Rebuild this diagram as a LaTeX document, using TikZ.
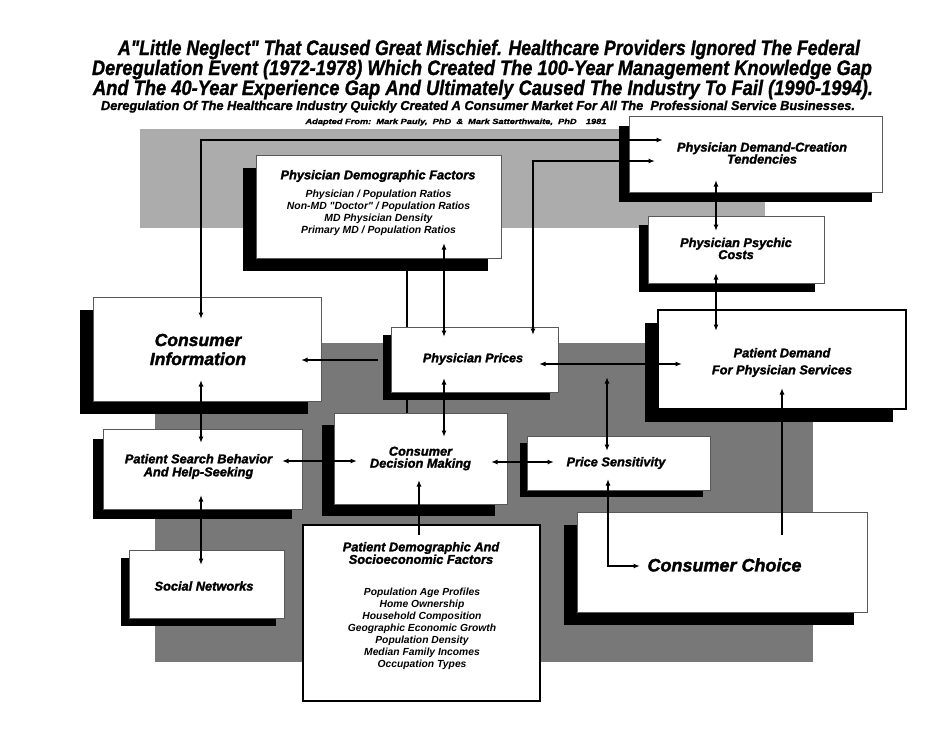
\documentclass[tikz,border=0pt]{standalone}
\usepackage{fontspec}
\usepackage{graphicx}
\setmainfont{Liberation Sans}[Ligatures=TeXOff]
\newfontfamily\heavyfont{Liberation Sans}[Ligatures=TeXOff,FakeBold=1.8]
\newfontfamily\titlefont{Liberation Sans}[Ligatures=TeXOff,FakeBold=1.2]
\usetikzlibrary{arrows.meta,shadows,calc}
\pgfdeclarelayer{bg}
\pgfdeclarelayer{mid}
\pgfsetlayers{bg,mid,main}
\definecolor{lightgr}{RGB}{172,172,172}
\definecolor{darkgr}{RGB}{120,120,120}
\begin{document}
\begin{tikzpicture}[x=1pt,y=-1pt,
  >={Latex[length=6.5pt,width=5pt]},
  box/.style args={#1/#2/#3}{draw=black!65, line width=0.8pt, fill=white, anchor=north west,
     minimum width=#1pt, minimum height=#2pt, inner sep=0pt,
     drop shadow={shadow xshift=-#3pt, shadow yshift=-#3pt, fill=black, opacity=1}},
  thickb/.style={draw=black, line width=2pt},
  lab/.style 2 args={font=\heavyfont\bfseries\itshape\fontsize{#1}{#2}\selectfont, align=center, inner sep=0pt},
  bodytxt/.style 2 args={font=\bfseries\itshape\fontsize{#1}{#2}\selectfont, align=center, inner sep=0pt},
  ttl/.style 2 args={font=\titlefont\bfseries\itshape\fontsize{#1}{#2}\selectfont, anchor=base, inner sep=0pt},
  con/.style={line width=1.4pt, draw=black}]
\useasboundingbox (0,0) rectangle (951,734);
\begin{pgfonlayer}{bg}
  \fill[white] (0,0) rectangle (951,734);
  \fill[lightgr] (140,129) rectangle (765,228);
  \fill[darkgr] (155,343) rectangle (813,662);
\end{pgfonlayer}

% titles
\node[ttl={21}{20}] (t1) at (489,55) {\resizebox{742pt}{\height}{A"Little Neglect" That Caused Great Mischief. Healthcare Providers Ignored The Federal}};
\node[ttl={21}{20}] (t2) at (482,75) {\resizebox{780pt}{\height}{Deregulation Event (1972-1978) Which Created The 100-Year Management Knowledge Gap}};
\node[ttl={21}{20}] (t3) at (483,95) {\resizebox{780pt}{\height}{And The 40-Year Experience Gap And Ultimately Caused The Industry To Fail (1990-1994).}};
\node[ttl={13}{13}] (t4) at (478,110) {\resizebox{754pt}{\height}{Deregulation Of The Healthcare Industry Quickly Created A Consumer Market For All The\ \ Professional Service Businesses.}};
\node[ttl={7.5}{8}] (t5) at (456,124) {\resizebox{301pt}{\height}{Adapted From:\ \ Mark Pauly,\ \ PhD\ \ \&\ \ Mark Satterthwaite,\ \ PhD\quad 1981}};

% boxes
\node[box={245/103/13}] (pdf) at (256,155) {};
\node[box={253/76/10}] (pdc) at (629,116) {};
\node[box={176/67/9}] (psy) at (648,216) {};
\node[box={248/99/13}, thickb] (pd) at (657,309) {};
\node[box={228/104/13}] (ci) at (93,297) {};
\node[box={167/65/8}] (pp) at (391,327) {};
\node[box={199/80/10}] (psb) at (103,429) {};
\node[box={173/91/12}] (cdm) at (334,413) {};
\node[box={183/54/7}] (ps) at (527,436) {};
\node[box={290/100/13}] (cc) at (577,512) {};
\node[box={155/68/8}] (sn) at (129,550) {};
\node[draw=black, line width=2pt, fill=white, anchor=north west, minimum width=237pt, minimum height=176pt, inner sep=0pt] (pds) at (302,524) {};

% labels
\node[lab={12.8}{13}] (pdfT) at (378,176) {Physician Demographic Factors};
\node[bodytxt={10.4}{12}] (pdfB) at (378.5,213) {Physician / Population Ratios\\Non-MD "Doctor" / Population Ratios\\MD Physician Density\\Primary MD / Population Ratios};
\node[lab={12.8}{12}] (pdcT) at (762,153) {Physician Demand-Creation\\Tendencies};
\node[lab={12.8}{12}] (psyT) at (736,248.5) {Physician Psychic\\Costs};
\node[lab={12.8}{17}] (pdT) at (782,362.5) {Patient Demand\\For Physician Services};
\node[lab={17.5}{19}] (ciT) at (198,349.5) {Consumer\\Information};
\node[lab={12.6}{13}] (ppT) at (473,359) {Physician Prices};
\node[lab={12.8}{13}] (psbT) at (198.5,466.5) {Patient Search Behavior\\And Help-Seeking};
\node[lab={12.8}{12}] (cdmT) at (420.5,458.5) {Consumer\\Decision Making};
\node[lab={12.8}{13}] (psT) at (616,463) {Price Sensitivity};
\node[lab={18}{19}] (ccT) at (724.5,565) {Consumer Choice};
\node[lab={12.8}{13}] (snT) at (204,586) {Social Networks};
\node[lab={12.8}{12.5}] (pdsT) at (421,553) {Patient Demographic And\\Socioeconomic Factors};
\node[bodytxt={10.3}{12}] (pdsB) at (422,629) {Population Age Profiles\\Home Ownership\\Household Composition\\Geographic Economic Growth\\Population Density\\Median Family Incomes\\Occupation Types};

% connector passing behind Physician Prices
\begin{pgfonlayer}{mid}
  \draw[con,<->] ($(pdf.north west)+(151,88)$) -- ($(cdm.north west)+(73,23)$);
\end{pgfonlayer}

% connectors
\draw[con,<->] ($(ci.north west)+(108,22)$) |- ($(pdc.north west)+(34,24)$);
\draw[con,<->] ($(pp.north west)+(142,8)$) |- ($(pdc.north west)+(26,45)$);
\draw[con,<->] ($(pdf.north west)+(188,88)$) -- ($(pp.north west)+(53,10)$);
\draw[con,<->] ($(pp.north west)+(53,51)$) -- ($(cdm.north west)+(110,24)$);
\draw[con,->] ($(pp.north west)+(-13,33)$) -- ($(ci.north west)+(208,63)$);
\draw[con,<->] ($(ci.north west)+(108,83)$) -- ($(psb.north west)+(98,14)$);
\draw[con,<->] ($(psb.north west)+(98,66)$) -- ($(sn.north west)+(72,15)$);
\draw[con,<->] ($(psb.north west)+(179,32)$) -- ($(cdm.north west)+(23,48)$);
\draw[con,<->] ($(cdm.north west)+(157,49)$) -- ($(ps.north west)+(27,26)$);
\draw[con,->] ($(pds.north west)+(117,11)$) -- ($(cdm.north west)+(85,67)$);
\draw[con,<->] ($(pp.north west)+(148,37)$) -- ($(pd.north west)+(25,55)$);
\coordinate (jn) at ($(pp.north west)+(216,50)$);
\draw[con,<->] (jn) -- ($(ps.north west)+(80,15)$);
\draw[con,<->] ($(ps.north west)+(81,43)$) |- ($(cc.north west)+(63,54)$);
\draw[con,->] ($(cc.north west)+(205,23)$) -- ($(pd.north west)+(125,79)$);
\draw[con,<->] ($(pdc.north west)+(87,64)$) -- ($(psy.north west)+(68,15)$);
\draw[con,<->] ($(psy.north west)+(68,57)$) -- ($(pd.north west)+(59,22)$);
\end{tikzpicture}
\end{document}
